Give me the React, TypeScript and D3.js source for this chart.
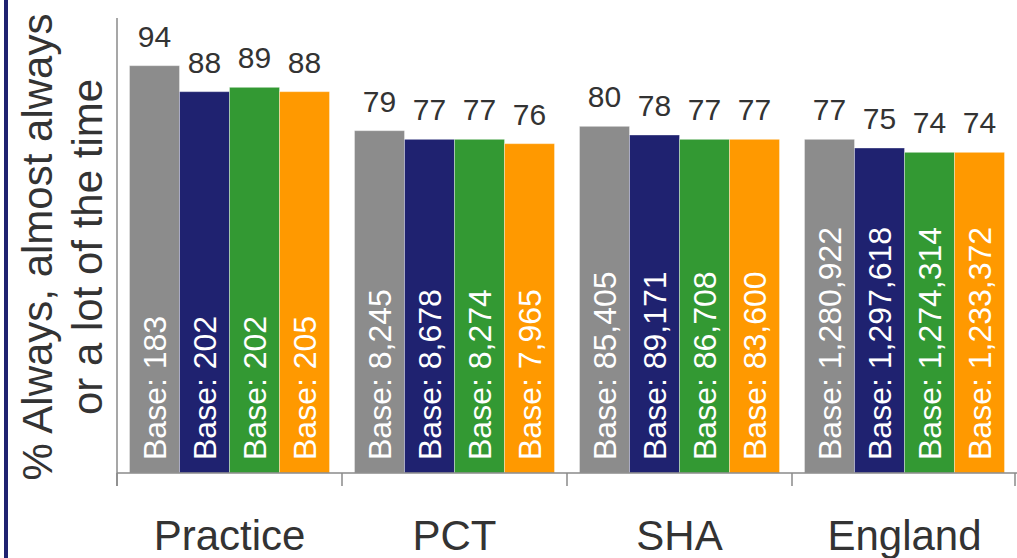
import { useEffect, useRef } from 'react';
import * as d3 from 'd3';

const categories = ['Practice', 'PCT', 'SHA', 'England'];
const seriesKeys = ['s1', 's2', 's3', 's4'];
const seriesColors = ['#8c8c8c', '#1f2270', '#339933', '#ff9900'];

// % values per category, one array per series
const values = [
    [94, 79, 80, 77],
    [88, 77, 78, 75],
    [89, 77, 77, 74],
    [88, 76, 77, 74],
];

const bases = [
    ['183', '8,245', '85,405', '1,280,922'],
    ['202', '8,678', '89,171', '1,297,618'],
    ['202', '8,274', '86,708', '1,274,314'],
    ['205', '7,965', '83,600', '1,233,372'],
];

const yTitleLines = ['% Always, almost always', 'or a lot of the time'];

const App = () => {
    const svgRef = useRef<SVGSVGElement>(null);

    useEffect(() => {
        const svg = d3.select(svgRef.current);
        svg.selectAll('*').remove();

        const width = 1017;
        const height = 558;
        const left = 117;
        const right = 1017;
        const top = 18;
        const bottom = 473;
        const font = '"Liberation Sans", Arial, sans-serif';
        const textColor = '#333333';

        svg.attr('width', width).attr('height', height);

        // dark stripe on the left edge
        svg.append('rect')
            .attr('x', 4)
            .attr('y', 0)
            .attr('width', 4)
            .attr('height', height)
            .attr('fill', '#1f2270');

        const x0 = d3.scaleBand().domain(categories).range([left, right]).padding(0);
        const x1 = d3.scaleBand().domain(seriesKeys).range([0, x0.bandwidth()])
            .paddingInner(0).paddingOuter(0.25);
        const y = d3.scaleLinear().domain([0, 105]).range([bottom, top]);

        // bars
        seriesKeys.forEach((key, si) => {
            const g = svg.append('g');
            g.selectAll('rect')
                .data(categories)
                .enter()
                .append('rect')
                .attr('x', (c) => (x0(c) as number) + (x1(key) as number))
                .attr('y', (c, i) => y(values[si][i]))
                .attr('width', x1.bandwidth())
                .attr('height', (c, i) => bottom - y(values[si][i]))
                .attr('fill', seriesColors[si])
                .attr('stroke', 'rgba(255,255,255,0.35)')
                .attr('stroke-width', 1);

            g.selectAll('text.val')
                .data(categories)
                .enter()
                .append('text')
                .attr('class', 'val')
                .attr('x', (c) => (x0(c) as number) + (x1(key) as number) + x1.bandwidth() / 2)
                .attr('y', (c, i) => y(values[si][i]) - 19)
                .attr('text-anchor', 'middle')
                .style('font-family', font)
                .style('font-size', '30px')
                .attr('fill', textColor)
                .text((c, i) => values[si][i]);

            g.selectAll('text.base')
                .data(categories)
                .enter()
                .append('text')
                .attr('class', 'base')
                .attr('transform', (c) => {
                    const cx = (x0(c) as number) + (x1(key) as number) + x1.bandwidth() / 2;
                    return `translate(${cx},${bottom - 13}) rotate(-90)`;
                })
                .attr('dy', '0.36em')
                .attr('text-anchor', 'start')
                .style('font-family', font)
                .style('font-size', '32px')
                .attr('fill', '#ffffff')
                .text((c, i) => `Base: ${bases[si][i]}`);
        });

        // axes
        const axisColor = '#8a8a8a';
        svg.append('line')
            .attr('x1', left).attr('x2', left)
            .attr('y1', top).attr('y2', bottom + 13)
            .attr('stroke', axisColor).attr('stroke-width', 1.5);
        svg.append('line')
            .attr('x1', left).attr('x2', right)
            .attr('y1', bottom).attr('y2', bottom)
            .attr('stroke', axisColor).attr('stroke-width', 1.5);

        const boundaries = categories.map((c) => x0(c) as number).concat([right - 2]);
        svg.selectAll('line.tick')
            .data(boundaries)
            .enter()
            .append('line')
            .attr('class', 'tick')
            .attr('x1', (d) => d).attr('x2', (d) => d)
            .attr('y1', bottom).attr('y2', bottom + 13)
            .attr('stroke', axisColor).attr('stroke-width', 1.5);

        svg.selectAll('text.cat')
            .data(categories)
            .enter()
            .append('text')
            .attr('class', 'cat')
            .attr('x', (c) => (x0(c) as number) + x0.bandwidth() / 2)
            .attr('y', 550)
            .attr('text-anchor', 'middle')
            .style('font-family', font)
            .style('font-size', '42px')
            .attr('fill', textColor)
            .text((c) => c);

        // y-axis title
        svg.selectAll('text.ytitle')
            .data(yTitleLines)
            .enter()
            .append('text')
            .attr('class', 'ytitle')
            .attr('transform', (d, i) => `translate(${52 + i * 50},247) rotate(-90)`)
            .attr('text-anchor', 'middle')
            .style('font-family', font)
            .style('font-size', '42px')
            .attr('fill', textColor)
            .attr('xml:space', 'preserve')
            .text((d) => d);
    }, []);

    return (
        <svg
            ref={svgRef}
            style={{ position: 'absolute', left: 0, top: 0, display: 'block', background: '#ffffff' }}
        />
    );
};

export default App;
